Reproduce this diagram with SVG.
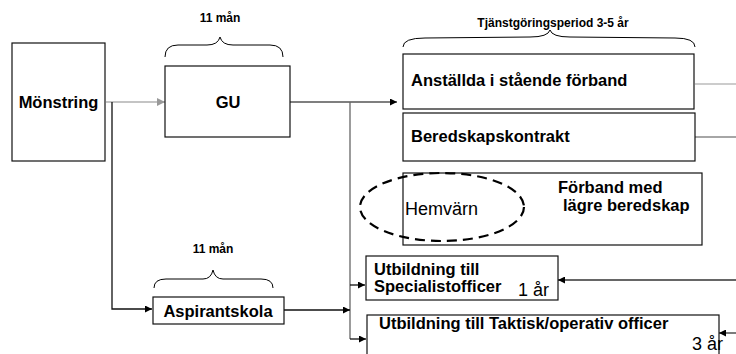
<svg xmlns="http://www.w3.org/2000/svg" width="736" height="354" viewBox="0 0 736 354">
  <style>
    .box { fill: #fff; stroke: #111; stroke-width: 1.2; }
    .lbl { font-family: "Liberation Sans", Arial, sans-serif; font-weight: bold; font-size: 16.5px; fill: #000; }
    .reg { font-family: "Liberation Sans", Arial, sans-serif; font-size: 18px; fill: #000; }
    .note { font-family: "Liberation Sans", Arial, sans-serif; font-weight: bold; font-size: 12px; fill: #000; }
    .brace { fill: none; stroke: #000; stroke-width: 1; }
    .ln { fill: none; stroke-width: 1.3; }
  </style>
  <defs>
    <marker id="ah" viewBox="0 0 10 10" refX="10" refY="5" markerWidth="7" markerHeight="7" markerUnits="userSpaceOnUse" orient="auto">
      <path d="M0,0 L10,5 L0,10 z" fill="#000"/>
    </marker>
    <marker id="ahg" viewBox="0 0 10 10" refX="10" refY="5" markerWidth="8" markerHeight="8" markerUnits="userSpaceOnUse" orient="auto">
      <path d="M0,0 L10,5 L0,10 z" fill="#999"/>
    </marker>
  </defs>

  <!-- connectors -->
  <g id="connectors">
    <line class="ln" x1="106" y1="102" x2="165" y2="102" stroke="#b0b0b0" marker-end="url(#ahg)"/>
    <polyline class="ln" points="112,102 112,309 152,309" stroke="#111" marker-end="url(#ah)"/>
    <line class="ln" x1="290" y1="102" x2="397" y2="102" stroke="#555" marker-end="url(#ah)"/>
    <line class="ln" x1="350" y1="102" x2="350" y2="339" stroke="#666"/>
    <line class="ln" x1="284" y1="310" x2="350" y2="310" stroke="#111" marker-end="url(#ah)"/>
    <line class="ln" x1="350" y1="285" x2="365" y2="285" stroke="#111" marker-end="url(#ah)"/>
    <line class="ln" x1="350" y1="339" x2="366" y2="339" stroke="#111" marker-end="url(#ah)"/>
    <line class="ln" x1="695" y1="84" x2="736" y2="84" stroke="#bbb"/>
    <line class="ln" x1="695" y1="137" x2="736" y2="137" stroke="#888"/>
    <line class="ln" x1="736" y1="280" x2="558" y2="280" stroke="#333" marker-end="url(#ah)"/>
    <line class="ln" x1="736" y1="333" x2="719" y2="333" stroke="#333" marker-end="url(#ah)"/>
  </g>

  <!-- duration braces -->
  <g id="brace-gu">
    <path class="brace" d="M165,57 Q165,45 178,45 L207,45 Q218,45 220,37 Q222,45 233,45 L270,45 Q283,45 283,57"/>
    <text class="note" x="220" y="22" text-anchor="middle">11 mån</text>
  </g>
  <g id="brace-service">
    <path class="brace" d="M403,47 Q403,38 425,38 L530,37 Q548,37 550,30 Q552,37 570,37 L675,38 Q695,38 695,47"/>
    <text class="note" x="553" y="27" text-anchor="middle">Tjänstgöringsperiod 3-5 år</text>
  </g>
  <g id="brace-asp">
    <path class="brace" d="M154,288 Q154,279 166,279 L203,279 Q211,279 213,270 Q215,279 223,279 L261,279 Q273,279 273,288"/>
    <text class="note" x="213" y="253" text-anchor="middle">11 mån</text>
  </g>

  <!-- nodes -->
  <g id="monstring">
    <rect class="box" x="12" y="43" width="93" height="118"/>
    <text class="lbl" x="58.5" y="108" text-anchor="middle">Mönstring</text>
  </g>
  <g id="gu">
    <rect class="box" x="165" y="66" width="125" height="71"/>
    <text class="lbl" x="228" y="108" text-anchor="middle">GU</text>
  </g>
  <g id="anstallda">
    <rect class="box" x="403" y="54" width="291" height="55" stroke="#444"/>
    <text class="lbl" x="411" y="86">Anställda i stående förband</text>
  </g>
  <g id="beredskap">
    <rect class="box" x="403" y="113" width="292" height="48"/>
    <text class="lbl" x="411" y="142">Beredskapskontrakt</text>
  </g>
  <g id="forband">
    <rect class="box" x="403" y="173" width="299" height="72"/>
    <text class="lbl" x="558" y="193">Förband med</text>
    <text class="lbl" x="563" y="211">lägre beredskap</text>
  </g>
  <g id="hemvarn">
    <ellipse cx="442" cy="207" rx="82" ry="34" fill="none" stroke="#000" stroke-width="2.2" stroke-dasharray="10,6"/>
    <text class="reg" x="405" y="215" font-size="17">Hemvärn</text>
  </g>
  <g id="aspirantskola">
    <rect class="box" x="153" y="297" width="131" height="27"/>
    <text class="lbl" x="218" y="317" text-anchor="middle">Aspirantskola</text>
  </g>
  <g id="specialist">
    <rect class="box" x="366" y="256" width="192" height="44"/>
    <text class="lbl" x="374" y="275">Utbildning till</text>
    <text class="lbl" x="374" y="292">Specialistofficer</text>
    <text class="reg" x="518" y="296">1 år</text>
  </g>
  <g id="taktisk">
    <rect class="box" x="367" y="315" width="352" height="45"/>
    <text class="lbl" x="379" y="329" font-size="16">Utbildning till Taktisk/operativ officer</text>
    <text class="reg" x="692" y="350">3 år</text>
  </g>
</svg>
